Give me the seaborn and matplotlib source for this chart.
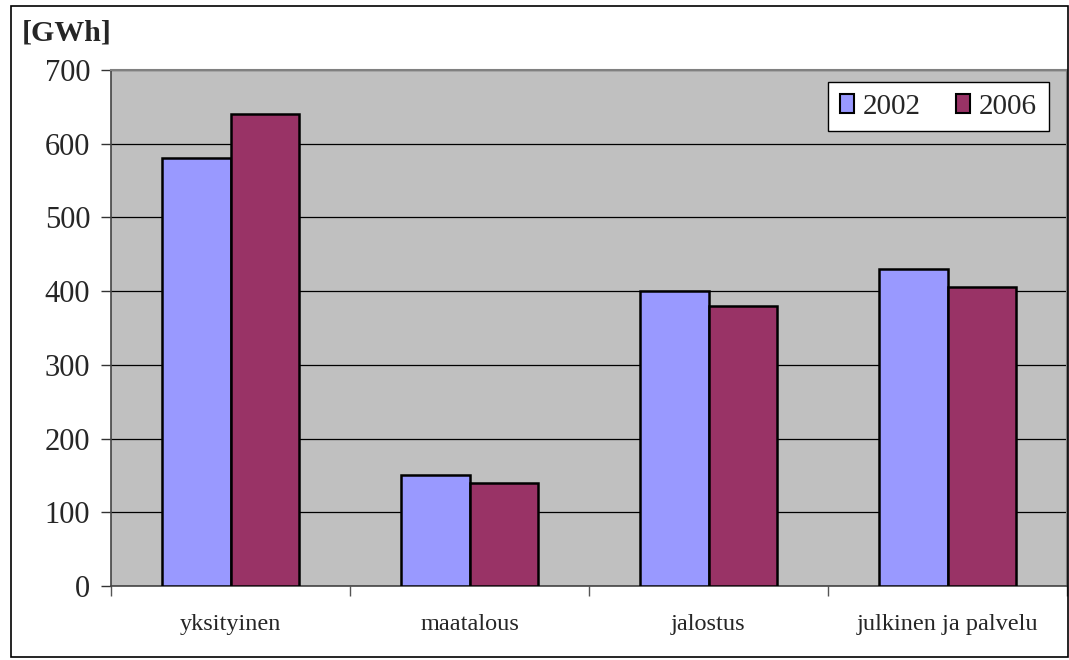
import matplotlib
matplotlib.use("Agg")
import matplotlib.pyplot as plt
import seaborn as sns
import pandas as pd
from matplotlib.patches import Rectangle

categories = ["yksityinen", "maatalous", "jalostus", "julkinen ja palvelu"]
years = ["2002", "2006"]
values_2002 = [580, 150, 400, 430]
values_2006 = [640, 140, 380, 405]
y_ticks = [0, 100, 200, 300, 400, 500, 600, 700]
unit_label = "[GWh]"

df = pd.DataFrame({
    "sektori": categories * 2,
    "vuosi": [years[0]] * len(categories) + [years[1]] * len(categories),
    "GWh": values_2002 + values_2006,
})

sns.set_theme(style="white")
plt.rcParams["font.family"] = ["Liberation Serif", "DejaVu Serif"]

W, H = 1069, 660
fig = plt.figure(figsize=(W / 100, H / 100), dpi=100)
fig.patch.set_facecolor("white")

# outer chart border
fig.add_artist(Rectangle((11 / W, 3 / H), (1057 / W), (651 / H), transform=fig.transFigure,
                         fill=False, edgecolor="black", linewidth=1.2))

ax = fig.add_axes([111 / W, (H - 586) / H, (1067 - 111) / W, (586 - 70) / H])
ax.set_facecolor("#C0C0C0")

sns.barplot(data=df, x="sektori", y="GWh", hue="vuosi", order=categories, hue_order=years,
            palette=["#9999FF", "#993366"], edgecolor="black", linewidth=1.8,
            width=0.57, gap=0, saturation=1, ax=ax, zorder=3)

ax.set_xlim(-0.5, len(categories) - 0.5)
ax.set_ylim(0, 700)
ax.set_yticks(y_ticks)
ax.set_yticklabels([str(t) for t in y_ticks], fontsize=22)
ax.yaxis.grid(True, color="black", linewidth=0.9, zorder=0)
ax.set_axisbelow(True)

# category labels centered, tick marks on boundaries
ax.set_xticks(range(len(categories)))
ax.set_xticklabels(categories, fontsize=17.5)
ax.tick_params(axis="x", which="major", length=0, pad=20)
ax.set_xticks([i - 0.5 for i in range(len(categories) + 1)], minor=True)
ax.tick_params(axis="x", which="minor", length=7, width=1, color="#555555", direction="out", bottom=True)
ax.tick_params(axis="y", length=7, width=1, color="#333333", direction="out", left=True, pad=8)

ax.set_xlabel("")
ax.set_ylabel("")

for side in ["left", "bottom"]:
    ax.spines[side].set_color("#444444")
    ax.spines[side].set_linewidth(1.2)
for side in ["top", "right"]:
    ax.spines[side].set_color("#808080")
    ax.spines[side].set_linewidth(1.5)

leg = ax.legend(loc="upper right", bbox_to_anchor=(0.981, 0.977), ncol=2, fontsize=21,
                frameon=True, fancybox=False, edgecolor="black", framealpha=1,
                handlelength=0.5, handleheight=0.6, handletextpad=0.3,
                columnspacing=1.2, borderpad=0.4, borderaxespad=0)
leg.get_frame().set_linewidth(1.0)
for h in leg.legend_handles:
    h.set_edgecolor("black")
    h.set_linewidth(1.5)

fig.text(22 / W, 1 - 33 / H, unit_label, fontsize=21.5, fontweight="bold", va="center", ha="left")

fig.savefig("out.png", dpi=100)
